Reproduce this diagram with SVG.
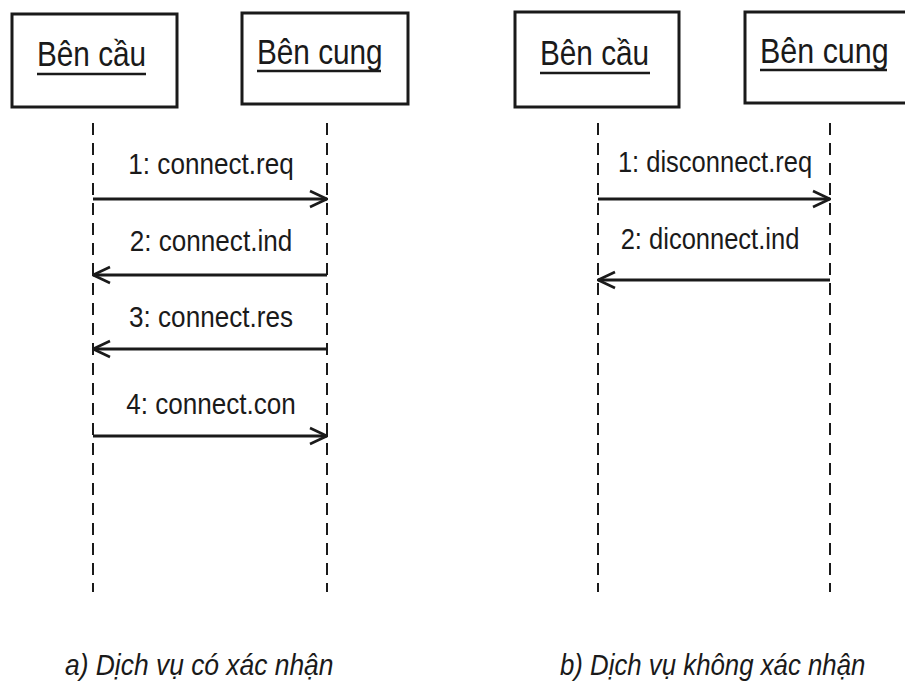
<svg xmlns="http://www.w3.org/2000/svg" width="905" height="686" viewBox="0 0 905 686">
<style>
.box{fill:#fff;stroke:#1a1a1a;stroke-width:3}
.lbl{font-family:"Liberation Sans",Arial,sans-serif;font-size:35px;fill:#1a1a1a}
.ul{stroke:#1a1a1a;stroke-width:2.5}
.life{stroke:#1a1a1a;stroke-width:2;stroke-dasharray:12 8;fill:none}
.msg{stroke:#1a1a1a;stroke-width:2.8;fill:none}
.mt{font-family:"Liberation Sans",Arial,sans-serif;font-size:29px;fill:#1a1a1a;text-anchor:middle}
.cap{font-family:"Liberation Sans",Arial,sans-serif;font-size:30px;font-style:italic;fill:#1a1a1a}
</style>
<defs>
<marker id="ah" viewBox="0 0 20 20" refX="19" refY="10" markerWidth="20" markerHeight="20" markerUnits="userSpaceOnUse" orient="auto-start-reverse">
<path d="M2,2 L19,10 L2,18" fill="none" stroke="#1a1a1a" stroke-width="2.6"/>
</marker>
</defs>
<rect width="905" height="686" fill="#fff"/>
<g id="a-cau">
<rect class="box" x="12" y="14" width="165" height="93"/>
<text class="lbl" transform="translate(37,66) scale(0.85,1)">Bên cầu</text>
<line class="ul" x1="37" y1="74" x2="146" y2="74"/>
</g>
<g id="a-cung">
<rect class="box" x="242" y="13" width="166" height="91"/>
<text class="lbl" transform="translate(257,64) scale(0.85,1)">Bên cung</text>
<line class="ul" x1="257" y1="71" x2="381" y2="71"/>
</g>
<g id="b-cau">
<rect class="box" x="515" y="12" width="164" height="95"/>
<text class="lbl" transform="translate(540,65) scale(0.85,1)">Bên cầu</text>
<line class="ul" x1="540" y1="73" x2="650" y2="73"/>
</g>
<g id="b-cung">
<rect class="box" x="745" y="12" width="170" height="91"/>
<text class="lbl" transform="translate(760,63) scale(0.87,1)">Bên cung</text>
<line class="ul" x1="760" y1="70" x2="887" y2="70"/>
</g>
<g id="connectors">
<line class="life" x1="93" y1="123" x2="93" y2="592"/>
<line class="life" x1="327" y1="123" x2="327" y2="592"/>
<line class="life" x1="598" y1="123" x2="598" y2="592"/>
<line class="life" x1="830" y1="123" x2="830" y2="592"/>
<line class="msg" x1="93" y1="199" x2="327" y2="199" marker-end="url(#ah)"/>
<line class="msg" x1="327" y1="275" x2="93" y2="275" marker-end="url(#ah)"/>
<line class="msg" x1="327" y1="349" x2="93" y2="349" marker-end="url(#ah)"/>
<line class="msg" x1="93" y1="436" x2="327" y2="436" marker-end="url(#ah)"/>
<line class="msg" x1="598" y1="199" x2="830" y2="199" marker-end="url(#ah)"/>
<line class="msg" x1="830" y1="280" x2="598" y2="280" marker-end="url(#ah)"/>
</g>
<g id="labels">
<text class="mt" transform="translate(211,174) scale(0.9,1)">1: connect.req</text>
<text class="mt" transform="translate(211,251) scale(0.9,1)">2: connect.ind</text>
<text class="mt" transform="translate(211,327) scale(0.9,1)">3: connect.res</text>
<text class="mt" transform="translate(211,414) scale(0.9,1)">4: connect.con</text>
<text class="mt" transform="translate(715,172) scale(0.88,1)">1: disconnect.req</text>
<text class="mt" transform="translate(710,249) scale(0.88,1)">2: diconnect.ind</text>
</g>
<g id="captions">
<text class="cap" transform="translate(65,675) scale(0.88,1)">a) Dịch vụ có xác nhận</text>
<text class="cap" transform="translate(560,675) scale(0.86,1)">b) Dịch vụ không xác nhận</text>
</g>
</svg>
